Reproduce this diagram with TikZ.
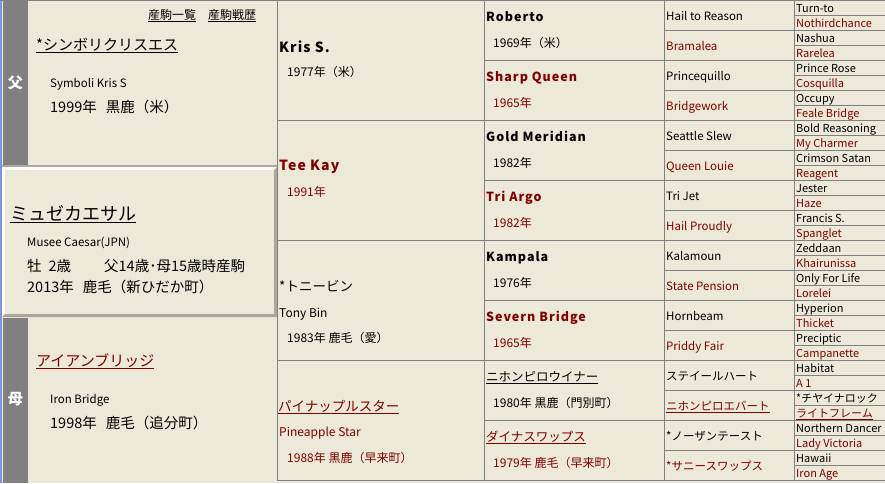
\documentclass[tikz,border=0pt]{standalone}
\usepackage{fontspec}
\setmainfont{Noto Sans CJK JP}
\newfontfamily\boldlat{Noto Sans CJK JP}[LetterSpace=8]
\definecolor{pedbeige}{HTML}{ECE9D8}
\definecolor{cellgray}{HTML}{808080}
\definecolor{bevelgray}{HTML}{ACA899}
\definecolor{pedred}{HTML}{800000}
\definecolor{edgeblue}{HTML}{7F93E0}
\newcommand{\gap}{\hspace{9pt}}

\begin{document}
\begin{tikzpicture}[x=1pt, y=-1pt,
  lbl/.style={anchor=base west, inner sep=0pt},
  cellline/.style={draw=cellgray, line width=1pt},
  barchar/.style={text=white, inner sep=0pt, font=\bfseries\fontsize{15}{17}\selectfont},
  menu/.style={lbl, font=\fontsize{12}{14}\selectfont},
  bigkana/.style={lbl, font=\fontsize{15}{17}\selectfont},
  engname/.style={lbl, font=\fontsize{11.5}{13}\selectfont},
  bigyear/.style={lbl, font=\fontsize{14.5}{17}\selectfont},
  g2name/.style={lbl, font=\boldlat\bfseries\fontsize{14}{16}\selectfont},
  g2kana/.style={lbl, font=\fontsize{13.5}{16}\selectfont},
  g3name/.style={lbl, font=\boldlat\bfseries\fontsize{12.5}{15}\selectfont},
  g3kana/.style={lbl, font=\fontsize{12.5}{15}\selectfont},
  yearline/.style={lbl, font=\fontsize{12}{14}\selectfont},
  g4/.style={lbl, font=\fontsize{11.5}{14}\selectfont},
  g5/.style={lbl, font=\fontsize{11}{13}\selectfont},
  dam/.style={text=pedred}]
\useasboundingbox (0,0) rectangle (885,483);
% 背景と左の欄
\fill[pedbeige] (0,0) rectangle (885,483);
\fill[edgeblue] (0,0) rectangle (2,483);
\fill[cellgray] (3,0) rectangle (28,165);
\fill[cellgray] (3,318) rectangle (28,483);
\fill[bevelgray] (2,165) rectangle (277,166.5);
\fill[white] (2,167) rectangle (277,317);
\fill[bevelgray] (277,167) -- (277,317) -- (2,317) -- (5,314) -- (274,314) -- (274,170) -- cycle;
\fill[pedbeige] (5,170) rectangle (274,314);

% 罫線
\draw[cellline] (0,0.5) -- (885,0.5);
\foreach \x in {277.5,484,664.5,794.5}
  \draw[cellline] (\x,0) -- (\x,480);
\foreach \y in {120,240,360,480}
  \draw[cellline] (277,\y) -- (484,\y);
\foreach \y in {60,120,...,480}
  \draw[cellline] (484,\y) -- (664,\y);
\foreach \y in {30,60,...,480}
  \draw[cellline] (664,\y) -- (794,\y);
\foreach \y in {15,30,...,480}
  \draw[cellline] (794,\y) -- (885,\y);

% 本馬と父・母
\node[barchar] (fbar) at (15.5,83) {父};
\node[barchar] (mbar) at (15.5,399) {母};
\node[menu] (offlist) at (148,19) {\underline{産駒一覧}};
\node[menu] (offrace) at (208,19) {\underline{産駒戦歴}};
\node[bigkana] (fname) at (36,50) {\underline{*シンボリクリスエス}};
\node[engname] (fen) at (50,87) {Symboli Kris S};
\node[bigyear] (fyear) at (50,112) {1999年\gap 黒鹿（米）};
\node[lbl, font=\fontsize{18}{20}\selectfont] (self) at (10,220) {\underline{ミュゼカエサル}};
\node[engname] (selfen) at (27,246) {Musee Caesar(JPN)};
\node[bigyear] (selfage) at (27,271) {\makebox[77pt][l]{牡\hspace{7pt}2歳}父14歳･母15歳時産駒};
\node[bigyear] (selfyear) at (27,292) {2013年\gap 鹿毛（新ひだか町）};
\node[bigkana, dam] (mname) at (36,366) {\underline{アイアンブリッジ}};
\node[engname] (men) at (50,403) {Iron Bridge};
\node[bigyear] (myear) at (50,428) {1998年\gap 鹿毛（追分町）};

% 2代
\node[g2name] (ff) at (279,52) {Kris S.};
\node[yearline] (ffyr) at (287,76) {1977年（米）};
\node[g2name, dam] (fm) at (279,170) {Tee Kay};
\node[yearline, dam] (fmyr) at (287,196) {1991年};
\node[g2kana] (mf) at (279,291) {*トニービン};
\node[yearline] (mfen) at (279,317) {Tony Bin};
\node[yearline] (mfyr) at (287,342) {1983年 鹿毛（愛）};
\node[g2kana, dam] (mm) at (278,411) {\underline{パイナップルスター}};
\node[yearline, dam] (mmen) at (279,436) {Pineapple Star};
\node[yearline, dam] (mmyr) at (287,462) {1988年 黒鹿（早来町）};

% 3代
\node[g3name] (fff) at (486,21) {Roberto};
\node[yearline] (fffyr) at (493,47) {1969年（米）};
\node[g3name, dam] (ffm) at (486,81) {Sharp Queen};
\node[yearline, dam] (ffmyr) at (493,107) {1965年};
\node[g3name] (fmf) at (486,141) {Gold Meridian};
\node[yearline] (fmfyr) at (493,167) {1982年};
\node[g3name, dam] (fmm) at (486,201) {Tri Argo};
\node[yearline, dam] (fmmyr) at (493,227) {1982年};
\node[g3name] (mff) at (486,261) {Kampala};
\node[yearline] (mffyr) at (493,287) {1976年};
\node[g3name, dam] (mfm) at (486,321) {Severn Bridge};
\node[yearline, dam] (mfmyr) at (493,347) {1965年};
\node[g3kana] (mmf) at (486,381) {\underline{ニホンピロウイナー}};
\node[yearline] (mmfyr) at (493,407) {1980年 黒鹿（門別町）};
\node[g3kana, dam] (mmm) at (486,441) {\underline{ダイナスワップス}};
\node[yearline, dam] (mmmyr) at (493,467) {1979年 鹿毛（早来町）};

% 4代
\foreach \nm [count=\i from 0] in {Hail to Reason, Bramalea, Princequillo, Bridgework,
    Seattle Slew, Queen Louie, Tri Jet, Hail Proudly, Kalamoun, State Pension,
    Hornbeam, Priddy Fair, ステイールハート, \underline{ニホンピロエバート},
    *ノーザンテースト, *サニースワップス} {
  \ifodd\i \def\tc{pedred}\else\def\tc{black}\fi
  \node[g4, text=\tc] (g4-\i) at (666,30*\i+20) {\nm};
}

% 5代
\foreach \nm [count=\i from 0] in {Turn-to, Nothirdchance, Nashua, Rarelea,
    Prince Rose, Cosquilla, Occupy, Feale Bridge, Bold Reasoning, My Charmer,
    Crimson Satan, Reagent, Jester, Haze, Francis S., Spanglet, Zeddaan,
    Khairunissa, Only For Life, Lorelei, Hyperion, Thicket, Preciptic,
    Campanette, Habitat, A 1, *チヤイナロック, \underline{ライトフレーム},
    Northern Dancer, Lady Victoria, Hawaii, Iron Age} {
  \ifodd\i \def\tc{pedred}\else\def\tc{black}\fi
  \node[g5, text=\tc] (g5-\i) at (796,15*\i+12) {\nm};
}
\end{tikzpicture}
\end{document}
